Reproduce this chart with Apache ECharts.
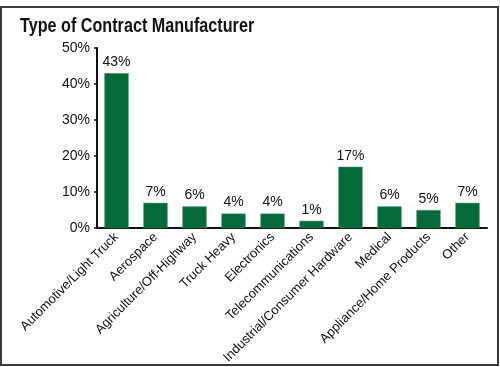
<!DOCTYPE html>
<html>
<head>
<meta charset="utf-8">
<script src="https://cdn.jsdelivr.net/npm/echarts@6/dist/echarts.min.js"></script>
<style>
html,body{margin:0;padding:0;background:#fff;}
#chart{width:500px;height:367px;}
</style>
</head>
<body>
<div id="chart"></div>
<script>
const titleText = 'Type of Contract Manufacturer';
const categories = ['Automotive/Light Truck','Aerospace','Agriculture/Off-Highway','Truck Heavy','Electronics','Telecommunications','Industrial/Consumer Hardware','Medical','Appliance/Home Products','Other'];
const values = [43, 7, 6, 4, 4, 2, 17, 6, 5, 7];
const valueLabels = ['43%','7%','6%','4%','4%','1%','17%','6%','5%','7%'];
const yTicks = [0, 10, 20, 30, 40, 50];

const FONT = '"Liberation Sans", Arial, sans-serif';
const chart = echarts.init(document.getElementById('chart'), null, {renderer:'canvas'});
chart.setOption({
  animation: false,
  backgroundColor: '#fff',
  graphic: [{
    type: 'rect', silent: true,
    shape: {x: 1, y: 7, width: 497, height: 358},
    style: {fill: 'none', stroke: '#3a3a3a', lineWidth: 2}
  }, {
    type: 'text', silent: true,
    x: 20, y: 16, scaleX: 0.77, scaleY: 1,
    style: {text: titleText, font: 'bold 21px ' + FONT, fill: '#111', textVerticalAlign: 'top'}
  }],
  grid: {left: 97, right: 13, top: 48, bottom: 139, containLabel: false, outerBoundsMode: 'none'},
  xAxis: {
    type: 'category',
    data: categories,
    axisLine: {lineStyle: {color: '#111', width: 2}},
    axisTick: {show: false},
    axisLabel: {
      interval: 0, rotate: 45, margin: 7,
      fontFamily: FONT, fontSize: 13, color: '#111'
    }
  },
  yAxis: {
    type: 'value',
    min: yTicks[0], max: yTicks[yTicks.length - 1], interval: 10,
    axisLine: {show: true, lineStyle: {color: '#111', width: 2}},
    axisTick: {show: true, length: 3, lineStyle: {color: '#111', width: 1.5}},
    splitLine: {show: false},
    axisLabel: {
      formatter: v => v + '%', margin: 7,
      fontFamily: FONT, fontSize: 14, color: '#111'
    }
  },
  series: [{
    type: 'bar',
    data: values,
    barWidth: '62%',
    itemStyle: {color: '#046a38', borderColor: '#3b8a5e', borderWidth: 0.6},
    label: {
      show: true, position: 'top', distance: 4,
      formatter: p => valueLabels[p.dataIndex],
      fontFamily: FONT, fontSize: 14, color: '#111'
    }
  }]
});
</script>
</body>
</html>
